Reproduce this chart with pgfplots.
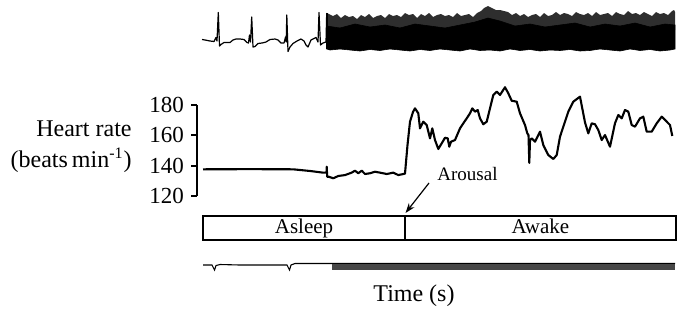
\documentclass[border=0pt]{standalone}
\usepackage{fontspec}
\setmainfont{Liberation Serif}
\usepackage{pgfplots}
\pgfplotsset{compat=1.18}
\usetikzlibrary{arrows.meta}
\begin{document}
\begin{tikzpicture}
\path[use as bounding box] (0,0) rectangle (340pt,156pt);
% ---------- traces in picture units (x = pixel, y = pixel from top) ----------
\begin{axis}[at={(170pt,78pt)}, anchor=center, width=340pt, height=156pt,
  scale only axis, xmin=0, xmax=680, ymin=0, ymax=312, y dir=reverse,
  hide axis, clip=false]
% ECG while asleep
\addplot[black, line width=0.6pt, line join=round] coordinates {
(202,39.5)(205,40)(210,41)(214,41.5)(216,37.5)(217,41)(218.3,12.5)(219.5,46)(221,44.5)
(224,42.5)(230,42.5)(233,40)(236,39)(240,39)(244,39.5)(247,42.5)(248.5,43)(249.5,35)
(250.5,42)(251.7,17)(253,47)(255,46.5)(258,43.5)(262,43)(266,42)(270,39.5)(275,39)
(278,40)(281,43)(284,43)(285.5,37)(286.2,42)(286.8,15)(288,51.5)(290,47)(293,43.5)
(297,41)(301,39)(304,41)(306,45)(308,47)(311,40)(314,38.5)(316,37.5)(318,42)
(319,12.5)(320.5,45)(323,43)(326,42)(326.7,13)
};
% ECG while awake: spiky upper part
\addplot[fill=black!82, draw=none] coordinates {
(326.7,13)(329,14)(333,16)(337,14)(341,18)(345,15)(349,17)(353,16)(357,19)(361,15)
(365,17)(369,14)(373,18)(377,16)(381,15)(385,18)(389,14)(393,16)(397,15)(401,17)
(405,13)(409,15)(413,14)(417,18)(421,14)(425,16)(429,13)(433,17)(437,15)(441,14)
(445,16)(449,15)(453,17)(457,13)(461,16)(465,15)(469,14)(473,17)(477,13)(481,11)
(484,8)(488,6)(492,8)(496,10)(500,10)(504,11)(508,12)(512,15)(516,13)(520,16)
(524,14)(528,17)(532,15)(536,14)(540,17)(544,13)(548,16)(552,15)(556,12)(560,15)
(564,13)(568,14)(572,16)(576,12)(580,14)(584,15)(588,13)(592,16)(596,12)(600,15)
(604,14)(608,13)(612,16)(616,12)(620,14)(624,15)(628,11)(632,14)(636,13)(640,15)
(644,12)(648,14)(652,16)(656,12)(660,14)(664,13)(668,15)(672,11)(674,10)(675,12)
(675,30)(326.7,30)
} --cycle;
% ECG while awake: dense lower part
\addplot[fill=black, draw=black, line width=0.3pt] coordinates {
(326.7,26)(340,28)(355,24)(370,27)(385,25)(400,28)(415,24)(430,26)(445,28)(460,25)
(475,22)(488,18)(500,21)(515,26)(530,24)(545,27)(560,25)(575,23)(590,27)(605,24)
(620,26)(635,23)(650,27)(665,24)(675,25)
(675,49)(670,50)(660,51)(650,49.5)(640,50.5)(630,49)(620,51)(610,50)(600,49)
(590,50.5)(580,51)(570,49.5)(560,50.5)(550,50)(540,51)(530,49.5)(520,50.5)(510,49)
(500,51)(490,50)(480,50.5)(470,49)(460,51)(450,50)(440,49)(430,50.5)(420,49.5)
(410,51)(400,50)(390,49)(380,50.5)(370,49.5)(360,51)(350,50)(340,49)(330,50)(326.7,49)
} --cycle;
\addplot[black, line width=0.8pt] coordinates {(326.7,13)(326.7,49)};
% bottom trace
\addplot[black, line width=0.55pt] coordinates {
(203,265)(212,265)(214.5,270)(216,265.5)(220,264.5)(240,265)(260,265)(280,265)
(287,265)(289.5,270)(291,265)(295,263.5)(331.7,263.5)(675,263.5)
};
\addplot[fill=black!72, draw=none] coordinates {
(331.7,263.5)(675,263.5)(675,270)(331.7,270)
} --cycle;
\end{axis}
% ---------- heart rate ----------
\begin{axis}[at={(98.5pt,58pt)}, anchor=south west, width=240pt, height=45.5pt,
  scale only axis, xmin=197, xmax=677, ymin=120, ymax=180,
  axis x line=none, axis y line*=left,
  ytick={120,140,160,180}, tick align=outside, major tick length=3pt,
  tick style={black, line width=1pt}, axis line style={line width=1pt},
  /pgf/number format/assume math mode=true,
  yticklabel style={font=\fontsize{11.5}{12}\selectfont},
  clip=false]
\addplot[black, line width=1.05pt, line join=round] coordinates {
(203,137.6)(250,137.7)(293,137.6)(310,136.5)(323,135.4)(326.5,135.4)(326.7,139.3)
(327.2,132.7)(328.7,132.7)(333.3,131.7)(338.3,133.2)(345,133.8)(351.7,135.4)
(355,136.7)(358.3,135)(361.7,136.7)(365,134.5)(370,135)(375,136)(380,135.4)
(386.7,134.5)(393.3,135.4)(398.3,133.8)(403.3,134.5)(405,134.8)(407.5,153.6)
(410,169)(413,175.4)(415,177.8)(418.3,174.5)(420,164.6)(423.3,169)(426.7,166.8)
(430,158)(432.3,164.6)(435,156.9)(438.3,151)(441.7,154.7)(445,158.4)(447.7,158)
(449.3,152.5)(451,155.8)(455,156.9)(460,164.6)(463.3,167.9)(466.7,171.2)(470,174.5)
(472.3,177.8)(475,175.6)(477.7,176.7)(480,171.2)(483.3,167.3)(486.7,169)(490,177.8)
(493.3,186.6)(496.7,188.8)(500,186.6)(505,191.7)(508.3,187.7)(511.7,182.8)
(516.7,182.2)(520,174.5)(525,166.8)(527.3,161.3)(528.5,160.2)(529.3,141.8)(530,156.9)
(531.7,158)(535,155.8)(540,162.4)(543.3,153.6)(548.3,147)(553.3,144.4)(556.7,147)
(560,159.1)(563.3,165.7)(568.3,175.6)(573.3,182.2)(580,185.5)(585,168.5)(588.3,161.3)
(591.7,167.9)(595,167.3)(598.3,163.5)(601.7,156.9)(605,160.2)(610,152.5)(615,168)
(618.3,173.4)(621.7,171.2)(625,176.7)(628.3,175.6)(631.7,166.8)(635,165.7)(640,171.2)
(643.3,172.3)(646.7,162.4)(651.7,162.4)(656.7,167.9)(661.7,172.3)(666.7,169)
(670,166.8)(672.3,159.6)
};
\end{axis}
% ---------- annotations in pixel units ----------
\begin{scope}[x=0.5pt, y=-0.5pt, shift={(0,156pt)}]
\draw[line width=1pt] (203,216) rectangle (676,239.5);
\draw[line width=0.6pt] (405,216) -- (405,239.5);
\node[anchor=base, inner sep=0, font=\fontsize{10.5}{12}\selectfont] at (304,233) {Asleep};
\node[anchor=base, inner sep=0, font=\fontsize{10.5}{12}\selectfont] at (540.5,233) {Awake};
\draw[-{Stealth[length=5pt,width=3.5pt]}, line width=0.6pt] (429,183) -- (405.5,213);
\node[anchor=base west, inner sep=0, font=\fontsize{9.5}{11}\selectfont] at (437,180) {Arousal};
\node[anchor=base, inner sep=0, font=\fontsize{12}{14}\selectfont] at (414,301) {Time (s)};
\node[anchor=base east, inner sep=0, font=\fontsize{12}{14}\selectfont] at (132,136.7) {Heart rate};
\node[anchor=base east, inner sep=0, font=\fontsize{12}{14}\selectfont] at (132,167.7) {(beats\,min\textsuperscript{-1})};
\end{scope}
\end{tikzpicture}
\end{document}
